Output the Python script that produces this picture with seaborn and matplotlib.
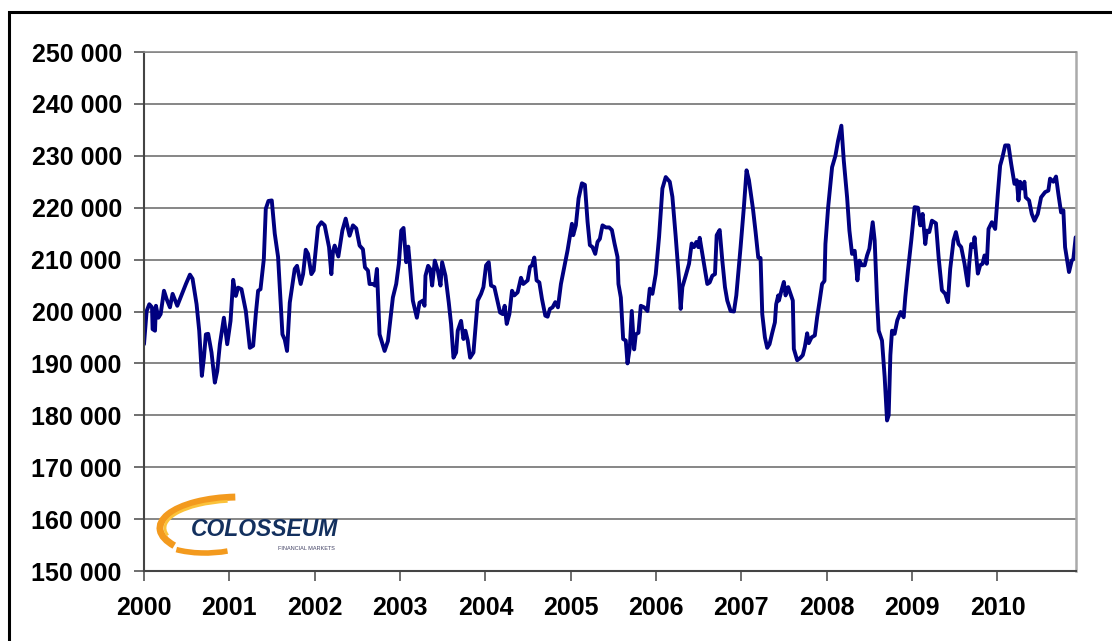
import matplotlib
matplotlib.use("Agg")
import matplotlib.pyplot as plt
from matplotlib.patches import Arc, Rectangle
from matplotlib.ticker import FuncFormatter
import seaborn as sns

# série, em três trechos (ano decimal, valor)
years_2000_2003 = [
    2000.000, 2000.031, 2000.062, 2000.094, 2000.101, 2000.129, 2000.140, 2000.168, 2000.195, 2000.234,
    2000.265, 2000.304, 2000.335, 2000.390, 2000.421, 2000.460, 2000.491, 2000.538, 2000.569, 2000.616,
    2000.647, 2000.678, 2000.702, 2000.725, 2000.752, 2000.791, 2000.830, 2000.858, 2000.889, 2000.936,
    2000.975, 2001.014, 2001.045, 2001.076, 2001.103, 2001.142, 2001.193, 2001.240, 2001.279, 2001.310,
    2001.337, 2001.365, 2001.404, 2001.427, 2001.458, 2001.497, 2001.532, 2001.571, 2001.622, 2001.649,
    2001.676, 2001.708, 2001.766, 2001.793, 2001.836, 2001.864, 2001.895, 2001.922, 2001.961, 2001.988,
    2002.039, 2002.078, 2002.117, 2002.168, 2002.195, 2002.214, 2002.234, 2002.277, 2002.324, 2002.363,
    2002.409, 2002.448, 2002.487, 2002.526, 2002.565, 2002.589, 2002.624, 2002.643, 2002.682, 2002.706,
    2002.729, 2002.760, 2002.819, 2002.858, 2002.916, 2002.955, 2002.986, 2003.014, 2003.041, 2003.072,
    2003.096, 2003.111, 2003.150, 2003.197, 2003.228, 2003.267, 2003.287, 2003.298, 2003.329, 2003.353,
    2003.376, 2003.407, 2003.442, 2003.474, 2003.493, 2003.532, 2003.571, 2003.598, 2003.626, 2003.657,
    2003.676,
]
values_2000_2003 = [
    193700, 200100, 201400, 200800, 196600, 196300, 201100, 198800, 199500, 204000,
    202400, 200800, 203400, 201100, 202400, 204000, 205300, 207100, 206300, 201400,
    196300, 187600, 191100, 195600, 195700, 192100, 186300, 188500, 193700, 198800,
    193700, 198200, 206100, 203000, 204600, 204300, 200100, 193000, 193400, 199500,
    204000, 204300, 210100, 219800, 221300, 221400, 215000, 210500, 195600, 194600,
    192400, 201700, 208200, 208800, 205300, 207200, 211900, 211100, 207200, 207900,
    216300, 217200, 216600, 212400, 207200, 211500, 212700, 210600, 215600, 217900,
    214600, 216600, 216000, 212700, 212000, 208500, 207900, 205300, 205300, 205000,
    208200, 195600, 192400, 194300, 202700, 205300, 209200, 215600, 216100, 209500,
    212500, 209800, 202100, 198800, 201700, 202100, 201100, 206900, 208800, 208200,
    205000, 209800, 207900, 205000, 209500, 206900, 201700, 197600, 191100, 192100,
    196300,
]

years_2003_2007 = [
    2003.715, 2003.743, 2003.766, 2003.793, 2003.821, 2003.860, 2003.910, 2003.949, 2003.977, 2004.008,
    2004.039, 2004.066, 2004.105, 2004.144, 2004.172, 2004.203, 2004.226, 2004.250, 2004.281, 2004.312,
    2004.339, 2004.378, 2004.417, 2004.444, 2004.495, 2004.522, 2004.546, 2004.573, 2004.600, 2004.632,
    2004.663, 2004.702, 2004.729, 2004.756, 2004.787, 2004.819, 2004.850, 2004.885, 2004.924, 2004.963,
    2005.002, 2005.014, 2005.029, 2005.060, 2005.092, 2005.131, 2005.166, 2005.197, 2005.224, 2005.255,
    2005.287, 2005.314, 2005.341, 2005.372, 2005.411, 2005.450, 2005.482, 2005.513, 2005.548, 2005.559,
    2005.587, 2005.614, 2005.645, 2005.665, 2005.692, 2005.715, 2005.743, 2005.762, 2005.793, 2005.821,
    2005.860, 2005.899, 2005.926, 2005.957, 2005.996, 2006.035, 2006.074, 2006.113, 2006.160, 2006.191,
    2006.230, 2006.269, 2006.288, 2006.308, 2006.347, 2006.386, 2006.417, 2006.444, 2006.472, 2006.495,
    2006.511, 2006.542, 2006.573, 2006.600, 2006.628, 2006.659, 2006.690, 2006.710, 2006.745, 2006.776,
    2006.807, 2006.834, 2006.873, 2006.912, 2006.940, 2006.990, 2007.029, 2007.060, 2007.088, 2007.135,
    2007.166, 2007.197, 2007.224, 2007.244, 2007.275, 2007.302, 2007.329, 2007.361, 2007.392, 2007.407,
    2007.431,
]
values_2003_2007 = [
    198200, 194700, 196300, 194400, 191100, 192100, 202100, 203400, 204700, 208900,
    209500, 205000, 204700, 201800, 199800, 199500, 201100, 197600, 199500, 204000,
    203100, 203700, 206500, 205300, 206000, 208600, 208900, 210400, 206000, 205600,
    202400, 199200, 199000, 200500, 200800, 201800, 200800, 205300, 208600, 211800,
    215700, 216900, 214700, 216600, 221800, 224700, 224400, 217300, 212800, 212400,
    211100, 213400, 214000, 216600, 216200, 216200, 215700, 213100, 210500, 205300,
    202700, 194700, 194400, 190000, 193000, 200100, 192700, 195600, 195900, 201100,
    200800, 200100, 204400, 203400, 207200, 214400, 223700, 225900, 225000, 222100,
    214400, 206000, 200500, 204700, 206900, 209200, 213100, 212400, 213400, 212400,
    214200, 211100, 208000, 205300, 205600, 206900, 207200, 214700, 215700, 209800,
    204700, 202100, 200100, 200000, 203100, 212400, 220200, 227200, 225300, 219800,
    215300, 210400, 210300, 199500, 195000, 193000, 193700, 195900, 197900, 201400,
    203100,
]

years_2007_2010 = [
    2007.439, 2007.470, 2007.497, 2007.517, 2007.548, 2007.575, 2007.602, 2007.614, 2007.653, 2007.692,
    2007.719, 2007.743, 2007.770, 2007.789, 2007.821, 2007.860, 2007.887, 2007.914, 2007.945, 2007.973,
    2007.984, 2008.016, 2008.062, 2008.101, 2008.132, 2008.171, 2008.199, 2008.238, 2008.265, 2008.296,
    2008.327, 2008.359, 2008.382, 2008.413, 2008.444, 2008.472, 2008.499, 2008.538, 2008.561, 2008.589,
    2008.608, 2008.647, 2008.678, 2008.706, 2008.725, 2008.745, 2008.764, 2008.795, 2008.826, 2008.865,
    2008.901, 2008.920, 2008.951, 2008.990, 2009.029, 2009.068, 2009.096, 2009.123, 2009.154, 2009.174,
    2009.201, 2009.232, 2009.279, 2009.310, 2009.349, 2009.388, 2009.419, 2009.446, 2009.485, 2009.513,
    2009.544, 2009.575, 2009.614, 2009.653, 2009.669, 2009.692, 2009.719, 2009.731, 2009.770, 2009.797,
    2009.825, 2009.848, 2009.875, 2009.895, 2009.934, 2009.973, 2010.004, 2010.031, 2010.058, 2010.090,
    2010.129, 2010.160, 2010.199, 2010.226, 2010.246, 2010.265, 2010.292, 2010.316, 2010.331, 2010.370,
    2010.402, 2010.433, 2010.472, 2010.511, 2010.558, 2010.596, 2010.616, 2010.655, 2010.686, 2010.713,
    2010.745, 2010.772, 2010.792, 2010.838, 2010.870, 2010.889, 2010.916,
]
values_2007_2010 = [
    202100, 204100, 205700, 203100, 204700, 203400, 202100, 192800, 190600, 191100,
    191600, 193200, 195800, 193900, 195000, 195400, 198900, 201800, 205300, 205900,
    213000, 220100, 227800, 230000, 232900, 235800, 229100, 222000, 215600, 211100,
    211700, 206000, 209800, 208900, 208900, 210800, 212100, 217200, 213700, 202100,
    196300, 194400, 187400, 179000, 180000, 191600, 196300, 195700, 198300, 199900,
    198900, 202800, 207900, 213700, 220100, 220000, 216600, 218800, 213000, 215600,
    215300, 217500, 217000, 210500, 204100, 203400, 201800, 208200, 213700, 215300,
    213000, 212400, 209200, 205000, 209200, 213000, 212400, 214300, 207300, 208900,
    209200, 210800, 209200, 215900, 217200, 215900, 222700, 228100, 229700, 232000,
    232000, 228500, 224600, 225300, 221400, 225000, 223700, 225000, 222000, 221400,
    218800, 217500, 218800, 222000, 223000, 223300, 225600, 225000, 226000, 222700,
    219100, 219500, 212400, 207600, 209800, 210100, 214300,
]

year_ticks = list(range(2000, 2011))
value_ticks = list(range(150000, 250001, 10000))

years = years_2000_2003 + years_2003_2007 + years_2007_2010
values = values_2000_2003 + values_2003_2007 + values_2007_2010

sns.set_style("white")
plt.rcParams["font.family"] = ["Liberation Sans", "DejaVu Sans"]

W, H = 1112, 641
fig = plt.figure(figsize=(W / 100, H / 100), dpi=100)
ax = fig.add_axes([144 / W, 1 - 571 / H, (1076 - 144) / W, (571 - 52) / H])

sns.lineplot(x=years, y=values, ax=ax, color="#000080", linewidth=2.8,
             estimator=None, sort=False)

ax.set_xlim(2000, 2010.92)
ax.set_ylim(150000, 250000)
ax.set_xticks(year_ticks)
ax.set_yticks(value_ticks)
ax.yaxis.set_major_formatter(FuncFormatter(lambda v, _: f"{int(v):,}".replace(",", " ")))
ax.set_xlabel("")
ax.set_ylabel("")

for t in ax.get_xticklabels() + ax.get_yticklabels():
    t.set_fontweight("bold")
    t.set_fontsize(18)
    t.set_color("black")
ax.tick_params(axis="both", direction="out", length=7, width=1.2, color="#555555",
               left=True, bottom=True)
ax.tick_params(axis="y", pad=9)
ax.tick_params(axis="x", pad=11)

ax.yaxis.grid(True, color="#666666", linewidth=1.1)
ax.set_axisbelow(True)
ax.spines["left"].set_color("#444444")
ax.spines["left"].set_linewidth(1.5)
ax.spines["bottom"].set_color("#444444")
ax.spines["bottom"].set_linewidth(1.5)
ax.spines["top"].set_color("#888888")
ax.spines["top"].set_linewidth(1.2)
ax.spines["right"].set_color("#aaaaaa")
ax.spines["right"].set_linewidth(1.8)

# moldura externa (passa da borda direita e inferior)
fig.add_artist(Rectangle((9 / W, -0.05), 1.1, 1 - 12 / H + 0.05, transform=fig.transFigure,
                         fill=False, edgecolor="black", linewidth=2.2, clip_on=False))

# logo Colosseum aproximado
fig.add_artist(Arc((240 / W, 1 - 528 / H), 160 / W, 62 / H, theta1=95, theta2=205,
                   transform=fig.transFigure, color="#f39a1e", linewidth=5))
fig.add_artist(Arc((240 / W, 1 - 528 / H), 150 / W, 54 / H, theta1=105, theta2=190,
                   transform=fig.transFigure, color="#fbc23a", linewidth=2))
fig.add_artist(Arc((205 / W, 1 - 538 / H), 90 / W, 30 / H, theta1=215, theta2=315,
                   transform=fig.transFigure, color="#f39a1e", linewidth=4))
fig.text(264 / W, 1 - 529 / H, "COLOSSEUM", fontsize=16.5, fontweight="bold", style="italic",
         color="#13305e", va="center", ha="center")
fig.text(335 / W, 1 - 549 / H, "FINANCIAL MARKETS", fontsize=4, color="#444466",
         va="center", ha="right")

fig.savefig("out.png", dpi=100)
